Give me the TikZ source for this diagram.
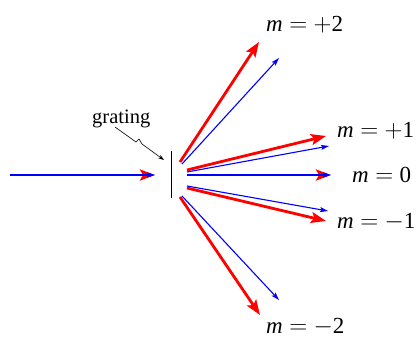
\documentclass[tikz,border=0pt]{standalone}
\usepackage{fontspec}
\setmainfont{Liberation Serif}
\usetikzlibrary{arrows.meta}
\newcommand{\mlab}[1]{\textit{m}\hspace{0.28em}$=$\hspace{0.28em}#1}
\tikzset{
  redray/.style={draw=red, line width=2.8pt, -{Stealth[length=15pt,width=11pt,inset=3pt]}},
  blueray/.style={draw=blue, line width=1.1pt, -{Stealth[length=8pt,width=5pt,inset=1.5pt]}},
  lab/.style={font=\fontsize{23}{26}\selectfont, inner sep=0pt, anchor=base west},
}
\begin{document}
\begin{tikzpicture}[x=1pt,y=-1pt]
\useasboundingbox (0,0) rectangle (419,337);
% incoming
\coordinate (inS) at (10,175);
\coordinate (inE) at (155,175);
\draw[redray] (inS) -- (inE);
\draw[blueray] (inS) -- (inE);
% grating
\coordinate (gT) at (171,151);
\coordinate (gB) at (171,198);
\draw[line width=1pt] (gT) -- (gB);
\node[font=\fontsize{20.5}{24}\selectfont, inner sep=0pt, anchor=base west] (glab) at (92,123) {grating};
\coordinate (gS) at (115,127);
\coordinate (k1) at (136,142);
\coordinate (k2) at (139,139);
\coordinate (k3) at (142,144);
\coordinate (gA) at (164,160);
\draw[line width=0.6pt, -{Stealth[length=6pt,width=4pt]}] (gS) -- (k1) -- (k2) -- (k3) -- (gA);
% m = +2
\coordinate (r2s) at (180,162); \coordinate (r2e) at (259,42);
\coordinate (b2s) at (182,164); \coordinate (b2e) at (279,58);
\draw[redray] (r2s) -- (r2e);
\draw[blueray] (b2s) -- (b2e);
% m = +1
\coordinate (r1s) at (187,170); \coordinate (r1e) at (326,136);
\coordinate (b1s) at (187,172); \coordinate (b1e) at (329,146);
\draw[redray] (r1s) -- (r1e);
\draw[blueray] (b1s) -- (b1e);
% m = 0
\coordinate (r0s) at (187,175); \coordinate (r0e) at (331,175);
\draw[redray] (r0s) -- (r0e);
\draw[blueray] (r0s) -- (r0e);
% m = -1
\coordinate (bm1s) at (187,186); \coordinate (bm1e) at (328,211);
\coordinate (rm1s) at (187,188); \coordinate (rm1e) at (326,221);
\draw[redray] (rm1s) -- (rm1e);
\draw[blueray] (bm1s) -- (bm1e);
% m = -2
\coordinate (rm2s) at (180,197); \coordinate (rm2e) at (260,315);
\coordinate (bm2s) at (182,196); \coordinate (bm2e) at (279,300);
\draw[redray] (rm2s) -- (rm2e);
\draw[blueray] (bm2s) -- (bm2e);
% labels
\node[lab] (l2) at (266,32) {\mlab{$+$2}};
\node[lab] (l1) at (337,137) {\mlab{$+$1}};
\node[lab] (l0) at (352,182) {\mlab{0}};
\node[lab] (lm1) at (337,228) {\mlab{$-$1}};
\node[lab] (lm2) at (266,333.5) {\mlab{$-$2}};
\end{tikzpicture}
\end{document}
